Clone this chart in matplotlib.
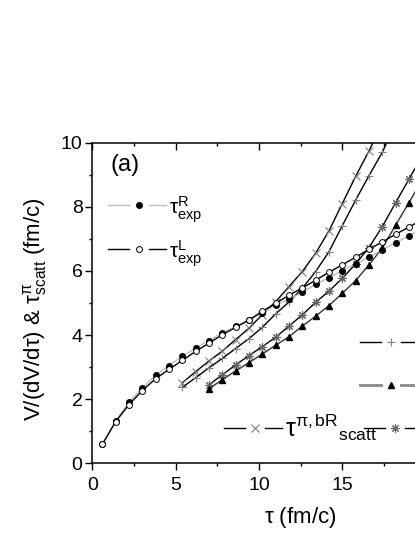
import matplotlib
matplotlib.use('Agg')
import matplotlib.pyplot as plt
from matplotlib.ticker import MultipleLocator

plt.rcParams['font.family'] = ['Liberation Sans', 'DejaVu Sans']
plt.rcParams['mathtext.fontset'] = 'custom'
plt.rcParams['mathtext.rm'] = 'Liberation Sans'
plt.rcParams['mathtext.it'] = 'Liberation Sans'
plt.rcParams['mathtext.bf'] = 'Liberation Sans:bold'
plt.rcParams['mathtext.default'] = 'regular'

# V/(dV/dtau) from experiment, right and left estimates
tau_exp = [0.6, 1.4, 2.2, 3.0, 3.8, 4.6, 5.4, 6.2, 7.0, 7.8, 8.6, 9.4, 10.2,
           11.0, 11.8, 12.6, 13.4, 14.2, 15.0, 15.8, 16.6, 17.4, 18.2, 19.0, 19.8]
exp_R = [0.60, 1.32, 1.90, 2.36, 2.74, 3.05, 3.34, 3.59, 3.83, 4.07, 4.27, 4.46, 4.70,
         4.93, 5.12, 5.33, 5.58, 5.79, 6.01, 6.22, 6.43, 6.66, 6.88, 7.10, 7.32]
exp_L = [0.59, 1.30, 1.83, 2.27, 2.64, 2.93, 3.21, 3.49, 3.75, 4.01, 4.24, 4.47, 4.74,
         4.99, 5.24, 5.47, 5.71, 5.96, 6.19, 6.43, 6.67, 6.91, 7.14, 7.37, 7.60]

# scattering times
tau_bR = [5.4, 6.2, 7.0, 7.8, 8.6, 9.4, 10.2, 11.0, 11.8, 12.6, 13.4, 14.2, 15.0,
          15.8, 16.6, 17.4]
scatt_bR = [2.51, 2.86, 3.19, 3.50, 3.86, 4.21, 4.64, 5.04, 5.51, 5.98, 6.55, 7.25, 8.10,
            8.95, 9.74, 10.6]
tau_aR = [5.4, 6.2, 7.0, 7.8, 8.6, 9.4, 10.2, 11.0, 11.8, 12.6, 13.4, 14.2, 15.0,
          15.8, 16.6, 17.4, 18.2]
scatt_aR = [2.37, 2.67, 2.98, 3.27, 3.58, 3.89, 4.24, 4.66, 5.03, 5.46, 5.98, 6.60, 7.41,
            8.21, 8.97, 9.70, 10.6]
tau_late = [7.0, 7.8, 8.6, 9.4, 10.2, 11.0, 11.8, 12.6, 13.4, 14.2, 15.0, 15.8, 16.6,
            17.4, 18.2, 19.0, 19.8]
scatt_star = [2.45, 2.76, 3.07, 3.36, 3.64, 3.93, 4.28, 4.63, 5.02, 5.37, 5.77, 6.22, 6.73,
              7.38, 8.13, 8.86, 9.60]
scatt_tri = [2.32, 2.61, 2.88, 3.14, 3.41, 3.68, 3.95, 4.28, 4.59, 4.92, 5.30, 5.70, 6.19,
             6.71, 7.43, 8.13, 8.85]

x_ticks = [0, 5, 10, 15, 20, 25]
x_ticklabels = ['0', '5', '10', '15', '', '']

# marker / line styles
st_R = dict(color='#bdbdbd', lw=1.0, marker='o', ms=4, mfc='k', mec='k')
st_L = dict(color='k', lw=1.0, marker='o', ms=4.2, mfc='white', mec='k', mew=0.7)
st_bR = dict(color='k', lw=1.0, marker='x', ms=5.5, mec='#808080', mew=0.8)
st_aR = dict(color='k', lw=1.0, marker='+', ms=6, mec='#808080', mew=0.8)
st_star = dict(color='k', lw=1.0, marker=(8, 2, 0), ms=6, mec='#666666', mew=0.8)
st_tri = dict(color='#333333', lw=1.0, marker='^', ms=4.5, mfc='k', mec='k')

fig = plt.figure(figsize=(4.15, 5.37), dpi=100)
ax = fig.add_axes([0.2224, 0.1372, 1.004, 0.5971])

ax.plot(tau_bR, scatt_bR, **st_bR)
ax.plot(tau_aR, scatt_aR, **st_aR)
ax.plot(tau_late, scatt_star, **st_star)
ax.plot(tau_late, scatt_tri, **st_tri)
ax.plot(tau_exp, exp_R, **st_R)
ax.plot(tau_exp, exp_L, **st_L)

ax.set_xlim(0, 25)
ax.set_ylim(0, 10)
ax.set_xticks(x_ticks, x_ticklabels)
ax.xaxis.set_minor_locator(MultipleLocator(2.5))
ax.yaxis.set_major_locator(MultipleLocator(2))
ax.yaxis.set_minor_locator(MultipleLocator(1))
for s in ax.spines.values():
    s.set_linewidth(1.1)
ax.tick_params(which='both', direction='out', top=True, right=True, width=1.0,
               labelsize=14)
ax.tick_params(which='major', length=5)
ax.tick_params(which='minor', length=2.5)
ax.tick_params(axis='x', which='both', pad=5)
ax.tick_params(axis='y', which='both', pad=2)
# bottom ticks outward, top ticks pointing down into the frame
for t in ax.xaxis.get_major_ticks() + ax.xaxis.get_minor_ticks():
    t.tick1line.set_marker(matplotlib.lines.TICKDOWN)
    t.tick2line.set_marker(matplotlib.lines.TICKDOWN)

ax.set_xlabel(r'$\tau$ (fm/c)', fontsize=16, labelpad=8)
ax.set_ylabel(r'V/(dV/d$\tau$) & $\tau^{\pi}_{scatt}$ (fm/c)', fontsize=16)
ax.yaxis.set_label_coords(-0.105, 0.48)

ax.text(0.079, 0.931, '(a)', transform=ax.transAxes, fontsize=17,
        ha='center', va='center')


def legend_entry(xc, y, style, label=None, fs=15, dy=0.0, lw=None):
    seg = dict(color=style['color'], lw=lw or style['lw'], transform=ax.transAxes,
               clip_on=False)
    ax.plot([xc - 0.075, xc - 0.024], [y, y], **seg)
    ax.plot([xc + 0.024, xc + 0.066], [y, y], **seg)
    mk = {k: v for k, v in style.items() if k not in ('color', 'lw')}
    ax.plot([xc], [y], transform=ax.transAxes, clip_on=False, ls='none',
            color=style.get('mec', style['color']), **mk)
    if label:
        ax.text(xc + 0.072, y + dy, label, transform=ax.transAxes, fontsize=fs,
                ha='left', va='center')


legend_entry(0.112, 0.8057, st_R, r'$\tau^{R}_{exp}$', dy=-0.016)
legend_entry(0.112, 0.6684, st_L, r'$\tau^{L}_{exp}$', dy=-0.016)
legend_entry(0.717, 0.3793, st_aR)
legend_entry(0.717, 0.2442, dict(st_tri, color='#888888'), lw=2.0)
legend_entry(0.390, 0.1092, st_bR, r'$\tau^{\pi,bR}{}_{scatt}$', fs=18, dy=0.004)
legend_entry(0.727, 0.1092, st_star)

fig.savefig('out.png', dpi=100)
